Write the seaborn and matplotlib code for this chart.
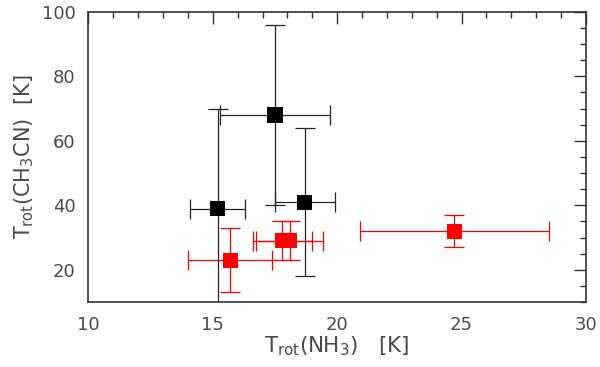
import matplotlib
matplotlib.use("Agg")
import matplotlib.pyplot as plt
from matplotlib.ticker import MultipleLocator
import seaborn as sns
import pandas as pd

# -------------------------------------------------------------------
# Data
# -------------------------------------------------------------------
black_x = [15.2, 17.5, 18.7]
black_y = [39, 68, 41]
black_xerr = [1.1, 2.2, 1.2]
black_yerr = [31, 28, 23]

red_x = [15.7, 17.8, 18.1, 24.7]
red_y = [23, 29, 29, 32]
red_xerr = [1.7, 1.2, 1.35, 3.8]
red_yerr = [10, 6, 6, 5]

df = pd.concat([
    pd.DataFrame({"x": black_x, "y": black_y, "group": "black"}),
    pd.DataFrame({"x": red_x, "y": red_y, "group": "red"}),
])

# -------------------------------------------------------------------
# Plot
# -------------------------------------------------------------------
sns.set_style("white")
plt.rcParams["font.family"] = ["DejaVu Sans"]
plt.rcParams["mathtext.fontset"] = "dejavusans"

fig = plt.figure(figsize=(6, 3.67), dpi=100)
ax = fig.add_axes([0.1472, 0.177, 0.8295, 0.791])

cap = 7.2
ax.errorbar(black_x, black_y, xerr=black_xerr, yerr=black_yerr, fmt="none",
            ecolor="#222222", elinewidth=0.9, capsize=cap, capthick=0.9, zorder=2)
ax.errorbar(red_x, red_y, xerr=red_xerr, yerr=red_yerr, fmt="none",
            ecolor="red", elinewidth=0.9, capsize=cap, capthick=0.9, zorder=2)

sns.scatterplot(data=df, x="x", y="y", hue="group",
                palette={"black": "black", "red": "red"},
                marker="s", s=118, linewidth=0, legend=False, ax=ax, zorder=3)

ax.set_xlim(10, 30)
ax.set_ylim(10, 100)
ax.xaxis.set_major_locator(MultipleLocator(5))
ax.xaxis.set_minor_locator(MultipleLocator(1))
ax.yaxis.set_major_locator(MultipleLocator(20))
ax.yaxis.set_minor_locator(MultipleLocator(5))

ax.tick_params(which="both", direction="in", top=True, right=True,
               color="#333333", width=1.0, labelsize=13, labelcolor="#4a4a4a")
ax.tick_params(which="major", length=8.6)
ax.tick_params(axis="x", which="major", pad=10)
ax.tick_params(axis="y", which="major", pad=9)
ax.tick_params(which="minor", length=4.6)

for sp in ax.spines.values():
    sp.set_color("#333333")
    sp.set_linewidth(1.2)

ax.set_xlabel(r"T$_{\rm rot}$(NH$_3$)   [K]", fontsize=15.5, color="#4a4a4a", labelpad=0)
ax.set_ylabel(r"T$_{\rm rot}$(CH$_3$CN)  [K]", fontsize=15, color="#4a4a4a", labelpad=4)

fig.savefig("out.png", dpi=100)
plt.close(fig)
